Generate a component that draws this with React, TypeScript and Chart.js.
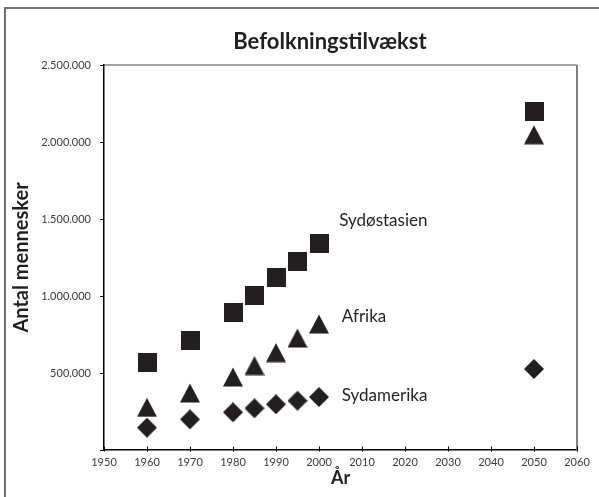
import React, { useEffect, useRef } from 'react';
import { Chart, registerables } from 'chart.js';

Chart.register(...registerables);

const years = [1960, 1970, 1980, 1985, 1990, 1995, 2000, 2050];
const sydostasien = [569000, 710000, 894000, 1002000, 1119000, 1227000, 1338000, 2199000];
const afrika = [277000, 370000, 474000, 548000, 632000, 727000, 818000, 2047000];
const sydamerika = [145000, 199000, 245000, 271000, 297000, 320000, 344000, 526000];

const seriesNames = ['Sydøstasien', 'Afrika', 'Sydamerika'];
const labelYears = [2004.7, 2005.3, 2005.3];
const labelValues = [1454000, 833000, 320000];

const chartTitle = 'Befolkningstilvækst';
const xMin = 1950;
const xMax = 2060;
const xStep = 10;
const yMin = 0;
const yMax = 2500000;
const yStep = 500000;

const INK = '#231f20';
const FONT = 'Lato';

function fmt(v: number): string {
  return String(Math.round(v)).replace(/\B(?=(\d{3})+(?!\d))/g, '.');
}

function makeMarker(shape: 'square' | 'triangle' | 'diamond'): HTMLCanvasElement {
  const c = document.createElement('canvas');
  const size = shape === 'square' ? 19 : 20;
  c.width = size;
  c.height = size;
  const ctx = c.getContext('2d')!;
  ctx.fillStyle = INK;
  ctx.beginPath();
  if (shape === 'square') {
    ctx.rect(0, 0, size, size);
  } else if (shape === 'triangle') {
    ctx.moveTo(size / 2, 0.5);
    ctx.lineTo(size, size - 0.5);
    ctx.lineTo(0, size - 0.5);
    ctx.closePath();
  } else {
    ctx.moveTo(size / 2, 0);
    ctx.lineTo(size, size / 2);
    ctx.lineTo(size / 2, size);
    ctx.lineTo(0, size / 2);
    ctx.closePath();
  }
  ctx.fill();
  return c;
}

export default function App() {
  const ref = useRef<HTMLCanvasElement>(null);

  useEffect(() => {
    document.body.style.margin = '0';
    const canvas = ref.current;
    if (!canvas) return;

    const markers = [makeMarker('square'), makeMarker('triangle'), makeMarker('diamond')];
    const seriesData = [sydostasien, afrika, sydamerika];

    const decor = {
      id: 'decor',
      afterDraw(chart: any) {
        const ctx = chart.ctx as CanvasRenderingContext2D;
        const { top, right, bottom } = chart.chartArea;
        const xs = chart.scales.x;
        const ys = chart.scales.y;
        ctx.save();
        // outer frame (left + top)
        ctx.strokeStyle = '#707070';
        ctx.lineWidth = 2;
        ctx.beginPath();
        ctx.moveTo(5, chart.height);
        ctx.lineTo(5, 8);
        ctx.lineTo(chart.width, 8);
        ctx.stroke();
        // plot frame top and right
        ctx.strokeStyle = '#4a4a4a';
        ctx.lineWidth = 1.2;
        ctx.beginPath();
        ctx.moveTo(chart.chartArea.left, top);
        ctx.lineTo(right, top);
        ctx.stroke();
        ctx.strokeStyle = '#808080';
        ctx.lineWidth = 2;
        ctx.beginPath();
        ctx.moveTo(right, top);
        ctx.lineTo(right, bottom);
        ctx.stroke();
        // x tick marks crossing the axis
        ctx.strokeStyle = '#000';
        ctx.lineWidth = 1;
        xs.ticks.forEach((t: any) => {
          const px = Math.round(xs.getPixelForValue(t.value)) + 0.5;
          ctx.beginPath();
          ctx.moveTo(px, bottom - 3.5);
          ctx.lineTo(px, bottom + 1.5);
          ctx.stroke();
        });
        // chart title
        ctx.fillStyle = INK;
        ctx.font = `bold 22px ${FONT}`;
        ctx.textAlign = 'center';
        ctx.textBaseline = 'alphabetic';
        ctx.fillText(chartTitle, 330, 49);
        // series labels
        ctx.font = `17px ${FONT}`;
        ctx.textAlign = 'left';
        seriesNames.forEach((name, i) => {
          ctx.fillText(name, xs.getPixelForValue(labelYears[i]), ys.getPixelForValue(labelValues[i]));
        });
        ctx.restore();
      },
    };

    const chart = new Chart(canvas, {
      type: 'scatter',
      data: {
        datasets: seriesNames.map((name, i) => ({
          label: name,
          data: years.map((y, j) => ({ x: y, y: seriesData[i][j] })),
          pointStyle: markers[i] as any,
          pointRadius: 10,
          backgroundColor: INK,
          borderColor: INK,
          showLine: false,
        })),
      },
      options: {
        responsive: false,
        animation: false,
        devicePixelRatio: 1,
        layout: { padding: { top: 65, right: 22, bottom: 0, left: 0 } },
        plugins: {
          legend: { display: false },
          tooltip: { enabled: false },
          title: { display: false },
        },
        scales: {
          x: {
            type: 'linear',
            min: xMin,
            max: xMax,
            grid: { display: false, drawTicks: false },
            border: { display: true, color: '#000', width: 1.5 },
            ticks: {
              stepSize: xStep,
              autoSkip: false,
              maxRotation: 0,
              padding: 6,
              color: '#3a3a3a',
              font: { family: FONT, size: 11 },
              callback: (v: any) => String(v),
            },
            title: {
              display: true,
              text: 'År',
              color: INK,
              font: { family: FONT, size: 18, weight: 'bold' },
              padding: { top: 0, bottom: 8 },
            },
            afterFit: (s: any) => {
              s.height = 47;
            },
          },
          y: {
            type: 'linear',
            min: yMin,
            max: yMax,
            grid: { drawOnChartArea: false, drawTicks: true, tickLength: 4, color: '#000' },
            border: { display: true, color: '#000', width: 1.5 },
            ticks: {
              stepSize: yStep,
              padding: 9,
              color: '#3a3a3a',
              font: { family: FONT, size: 11 },
              callback: (v: any) => (v === 0 ? '' : fmt(Number(v))),
            },
            title: {
              display: true,
              text: 'Antal mennesker',
              color: INK,
              font: { family: FONT, size: 20, weight: 'bold' },
              padding: { top: 10, bottom: 0 },
            },
            afterFit: (s: any) => {
              s.width = 104;
            },
          },
        },
      },
      plugins: [decor],
    });

    return () => chart.destroy();
  }, []);

  return (
    <div style={{ width: 599, height: 497, position: 'relative' }}>
      <canvas ref={ref} width={599} height={497} style={{ display: 'block', width: '599px', height: '497px' }} />
    </div>
  );
}
